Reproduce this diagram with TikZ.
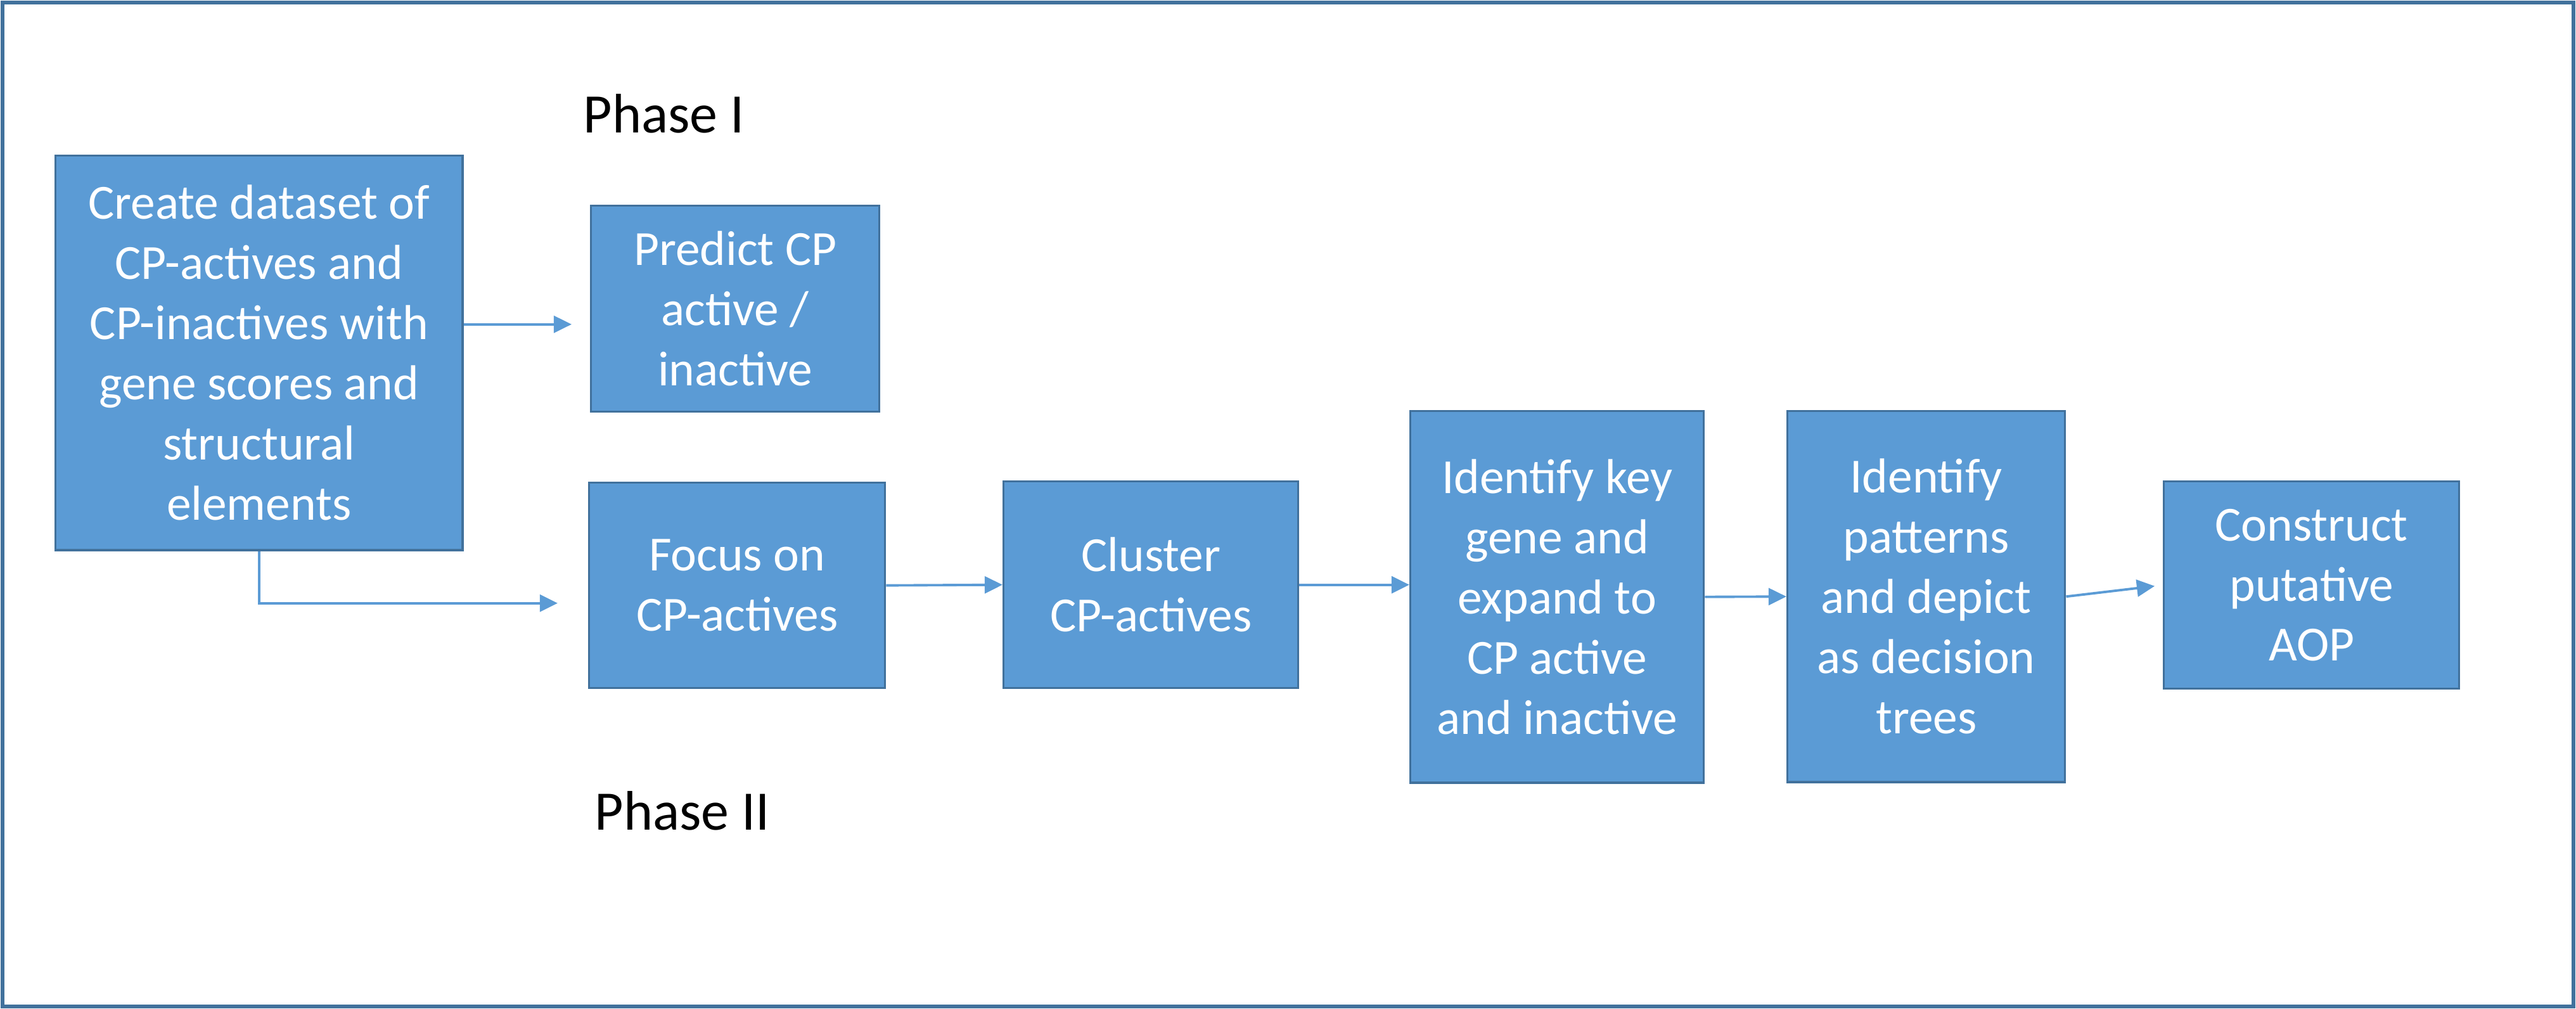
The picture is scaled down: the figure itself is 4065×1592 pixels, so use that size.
\documentclass[tikz,border=0pt]{standalone}
\usepackage{fontspec}
\setmainfont{Carlito}
\usepackage{xcolor}
\definecolor{boxblue}{HTML}{5B9BD5}
\definecolor{edgeblue}{HTML}{41719C}
\usepackage{tikz}
\usetikzlibrary{positioning,arrows.meta}

\begin{document}
\begin{tikzpicture}[x=0.01cm, y=-0.01cm, process/.style={
					rectangle, inner sep = 0pt, line width = 0.9pt,
					draw = edgeblue, fill = boxblue, text = white, align = center,
					anchor = north west, font = \fontsize{22}{27}\selectfont},
				flow/.style={-{Triangle[length=8pt,width=7.6pt]}, line width = 1.1pt, draw = boxblue},
				phase/.style={anchor = base west, inner sep = 0pt, font = \fontsize{25}{30}\selectfont}]
		\useasboundingbox (0,0) rectangle (4065,1592);
		\draw[edgeblue, line width = 1.7pt] (4,4) rectangle (4061,1588);
		\node (P1) [phase] at (920,210) {Phase I};
		\node (P2) [phase] at (938,1310) {Phase II};
		\node (A) [process, minimum width = 6.42cm, minimum height = 6.22cm] at (86,244) {Create dataset of\\CP-actives and\\CP-inactives with\\gene scores and\\structural\\elements};
		\node (B) [process, minimum width = 4.55cm, minimum height = 3.25cm] at (931,323) {Predict CP\\active /\\inactive};
		\node (C) [process, minimum width = 4.67cm, minimum height = 3.24cm] at (928,760) {Focus on\\CP-actives};
		\node (D) [process, minimum width = 4.65cm, minimum height = 3.26cm] at (1582,758) {Cluster\\CP-actives};
		\node (E) [process, minimum width = 4.63cm, minimum height = 5.86cm] at (2224,647) {Identify key\\gene and\\expand to\\CP active\\and inactive};
		\node (F) [process, minimum width = 4.38cm, minimum height = 5.85cm] at (2819,647) {Identify\\patterns\\and depict\\as decision\\trees};
		\node (G) [process, minimum width = 4.66cm, minimum height = 3.27cm] at (3413,758) {Construct\\putative\\AOP};
		\draw[flow, shorten >= 0.29cm] ([yshift=0.45cm]A.east) -- ([yshift=0.45cm]A.east -| B.west);
		\draw[flow, shorten >= 0.48cm] (A.south) |- ([yshift=-0.28cm]C.west);
		\draw[flow] (C.east) -- (D.west);
		\draw[flow] (D.east) -- (D.east -| E.west);
		\draw[flow] (E.east) -- (F.west);
		\draw[flow, shorten >= 0.13cm] (F.east) -- (G.west);
	\end{tikzpicture}
\end{document}
